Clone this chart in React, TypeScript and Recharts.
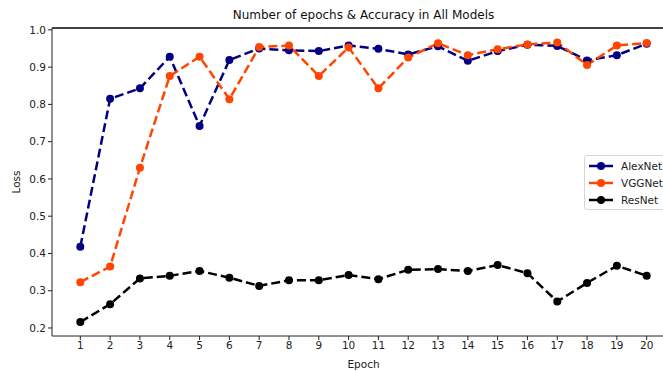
import { LineChart, Line, XAxis, YAxis, Label, CartesianGrid } from "recharts";

const epochs = [1, 2, 3, 4, 5, 6, 7, 8, 9, 10, 11, 12, 13, 14, 15, 16, 17, 18, 19, 20];
const alexNet = [0.418, 0.815, 0.843, 0.928, 0.742, 0.919, 0.95, 0.945, 0.943, 0.958, 0.949, 0.934, 0.956, 0.917, 0.943, 0.96, 0.957, 0.918, 0.932, 0.963];
const vggNet = [0.323, 0.365, 0.63, 0.876, 0.928, 0.814, 0.954, 0.958, 0.876, 0.953, 0.843, 0.926, 0.964, 0.932, 0.948, 0.961, 0.966, 0.906, 0.958, 0.965];
const resNet = [0.216, 0.264, 0.333, 0.34, 0.353, 0.335, 0.313, 0.328, 0.328, 0.342, 0.331, 0.356, 0.358, 0.353, 0.369, 0.347, 0.271, 0.321, 0.367, 0.34];
const yTicks = [0.2, 0.3, 0.4, 0.5, 0.6, 0.7, 0.8, 0.9, 1.0];

const xDomain: [number, number] = [0.05, 20.95];
const yDomain: [number, number] = [0.1785, 1.005];

const series = [
  { key: "alexNet", name: "AlexNet", color: "#000080" },
  { key: "vggNet", name: "VGGNet", color: "#ff4500" },
  { key: "resNet", name: "ResNet", color: "#000000" },
];

const data = epochs.map((epoch, i) => ({
  epoch,
  alexNet: alexNet[i],
  vggNet: vggNet[i],
  resNet: resNet[i],
}));

const font = "'DejaVu Sans', sans-serif";

// legend drawn as plain html, so recharts doesn't reserve room for it
function LegendBox() {
  return (
    <div
      style={{
        position: "absolute",
        left: 584,
        top: 155,
        zIndex: 2,
        border: "1px solid #d6d6d6",
        borderRadius: 3,
        background: "rgba(255,255,255,0.8)",
        padding: "1px 6px 1px 3px",
        fontFamily: font,
        fontSize: 10.5,
        color: "#222",
        width: 85,
      }}
    >
      {series.map((s) => (
        <div key={s.key} style={{ display: "flex", alignItems: "center", height: 17 }}>
          <svg width={26} height={10} style={{ marginRight: 7 }}>
            <line x1={1} y1={5} x2={25} y2={5} stroke={s.color} strokeWidth={2.5} />
            <circle cx={13} cy={5} r={4} fill={s.color} />
          </svg>
          <span>{s.name}</span>
        </div>
      ))}
    </div>
  );
}

export default function App() {
  return (
    <div style={{ position: "fixed", left: 0, top: 0, width: 663, height: 371, overflow: "hidden", background: "#fff" }}>
      <LineChart width={690} height={371} data={data} margin={{ top: 28, right: 15, bottom: 0, left: 0 }}>
        {/* only the top edge of the axes box */}
        <CartesianGrid vertical={false} horizontalValues={[yDomain[1]]} stroke="#333" strokeWidth={1.2} />
        <XAxis
          dataKey="epoch"
          type="number"
          domain={xDomain}
          ticks={epochs}
          interval={0}
          height={35}
          tickSize={4}
          tickLine={{ stroke: "#222" }}
          axisLine={{ stroke: "#222" }}
          tick={{ fontFamily: font, fontSize: 10.5, fill: "#222" }}
        >
          <Label value="Epoch" position="insideBottom" offset={3} style={{ fontFamily: font, fontSize: 10.5, fill: "#222" }} />
        </XAxis>
        <YAxis
          type="number"
          domain={yDomain}
          ticks={yTicks}
          width={52}
          tickSize={4}
          tickLine={{ stroke: "#222" }}
          axisLine={{ stroke: "#222" }}
          tickFormatter={(v: number) => v.toFixed(1)}
          tick={{ fontFamily: font, fontSize: 10.5, fill: "#222" }}
        >
          <Label value="Loss" angle={-90} position="insideLeft" offset={16} style={{ fontFamily: font, fontSize: 10.5, fill: "#222", textAnchor: "middle" }} />
        </YAxis>
        {series.map((s) => (
          <Line
            key={s.key}
            dataKey={s.key}
            name={s.name}
            stroke={s.color}
            strokeWidth={2.5}
            strokeDasharray="9 4"
            dot={{ r: 4, fill: s.color, stroke: "none", strokeDasharray: "0" }}
            activeDot={false}
            isAnimationActive={false}
          />
        ))}
      </LineChart>
      <div
        style={{
          position: "absolute",
          left: 52,
          width: 623,
          top: 8,
          zIndex: 2,
          textAlign: "center",
          fontFamily: font,
          fontSize: 12,
          color: "#111",
        }}
      >
        Number of epochs &amp; Accuracy in All Models
      </div>
      <div style={{ position: "absolute", left: 52, top: 27, width: 640, height: 2, background: "#444", zIndex: 2 }} />
      <LegendBox />
    </div>
  );
}
